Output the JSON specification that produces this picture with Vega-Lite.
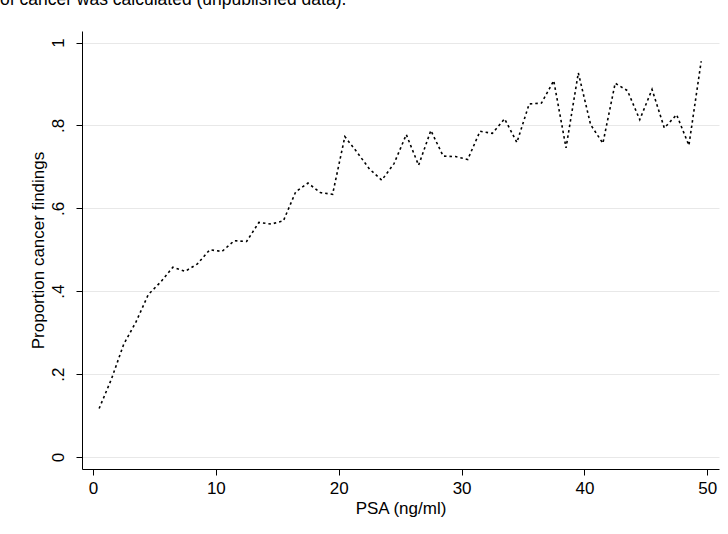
{
  "$schema": "https://vega.github.io/schema/vega-lite/v6.json",
  "autosize": {"type": "none"},
  "width": 637,
  "height": 438,
  "padding": {"left": 82, "top": 31, "right": 9, "bottom": 65},
  "background": "white",
  "title": {
    "text": "of cancer was calculated (unpublished data).",
    "font": "Liberation Sans",
    "fontSize": 17.5,
    "fontWeight": "normal",
    "color": "black",
    "anchor": "start",
    "frame": "group",
    "dx": -82,
    "baseline": "alphabetic",
    "offset": 9
  },
  "config": {
    "view": {"stroke": null},
    "axis": {
      "labelFont": "Liberation Sans",
      "titleFont": "Liberation Sans",
      "labelFontSize": 17,
      "titleFontSize": 17,
      "titleFontWeight": "normal",
      "labelColor": "black",
      "titleColor": "black",
      "domainColor": "black",
      "tickColor": "black",
      "domainWidth": 1,
      "tickWidth": 1,
      "tickSize": 6
    }
  },
  "data": {
    "values": [
      {"psa": 0.5, "p": 0.117},
      {"psa": 1.5, "p": 0.188},
      {"psa": 2.5, "p": 0.272},
      {"psa": 3.5, "p": 0.326},
      {"psa": 4.5, "p": 0.392},
      {"psa": 5.5, "p": 0.422},
      {"psa": 6.5, "p": 0.458},
      {"psa": 7.5, "p": 0.448},
      {"psa": 8.5, "p": 0.466},
      {"psa": 9.5, "p": 0.5},
      {"psa": 10.5, "p": 0.496},
      {"psa": 11.5, "p": 0.522},
      {"psa": 12.5, "p": 0.52},
      {"psa": 13.5, "p": 0.566},
      {"psa": 14.5, "p": 0.562},
      {"psa": 15.5, "p": 0.57},
      {"psa": 16.5, "p": 0.64},
      {"psa": 17.5, "p": 0.661},
      {"psa": 18.5, "p": 0.638},
      {"psa": 19.5, "p": 0.634},
      {"psa": 20.5, "p": 0.773},
      {"psa": 21.5, "p": 0.735},
      {"psa": 22.5, "p": 0.695},
      {"psa": 23.5, "p": 0.668},
      {"psa": 24.5, "p": 0.708},
      {"psa": 25.5, "p": 0.778},
      {"psa": 26.5, "p": 0.704},
      {"psa": 27.5, "p": 0.788},
      {"psa": 28.5, "p": 0.726},
      {"psa": 29.5, "p": 0.725},
      {"psa": 30.5, "p": 0.718},
      {"psa": 31.5, "p": 0.786},
      {"psa": 32.5, "p": 0.781},
      {"psa": 33.5, "p": 0.816},
      {"psa": 34.5, "p": 0.759},
      {"psa": 35.5, "p": 0.852},
      {"psa": 36.5, "p": 0.854},
      {"psa": 37.5, "p": 0.908},
      {"psa": 38.5, "p": 0.746},
      {"psa": 39.5, "p": 0.927},
      {"psa": 40.5, "p": 0.802},
      {"psa": 41.5, "p": 0.757},
      {"psa": 42.5, "p": 0.902},
      {"psa": 43.5, "p": 0.884},
      {"psa": 44.5, "p": 0.814},
      {"psa": 45.5, "p": 0.887},
      {"psa": 46.5, "p": 0.794},
      {"psa": 47.5, "p": 0.826},
      {"psa": 48.5, "p": 0.752},
      {"psa": 49.5, "p": 0.955}
    ]
  },
  "mark": {"type": "line", "color": "black", "strokeWidth": 1.6, "strokeDash": [2.5, 3]},
  "encoding": {
    "x": {
      "field": "psa",
      "type": "quantitative",
      "scale": {"domain": [-0.895, 50.95], "nice": false, "zero": false},
      "axis": {
        "title": "PSA (ng/ml)",
        "values": [0, 10, 20, 30, 40, 50],
        "grid": false,
        "labelPadding": 5,
        "titlePadding": 4
      }
    },
    "y": {
      "field": "p",
      "type": "quantitative",
      "scale": {"domain": [-0.029, 1.028], "nice": false, "zero": false},
      "axis": {
        "title": "Proportion cancer findings",
        "values": [0, 0.2, 0.4, 0.6, 0.8, 1],
        "labelExpr": "datum.value == 0 ? '0' : datum.value == 1 ? '1' : replace(format(datum.value, '.1f'), '0.', '.')",
        "labelAngle": 270,
        "labelPadding": 9,
        "grid": true,
        "gridColor": "#e8e8e8",
        "gridWidth": 1,
        "titlePadding": 2
      }
    }
  }
}
